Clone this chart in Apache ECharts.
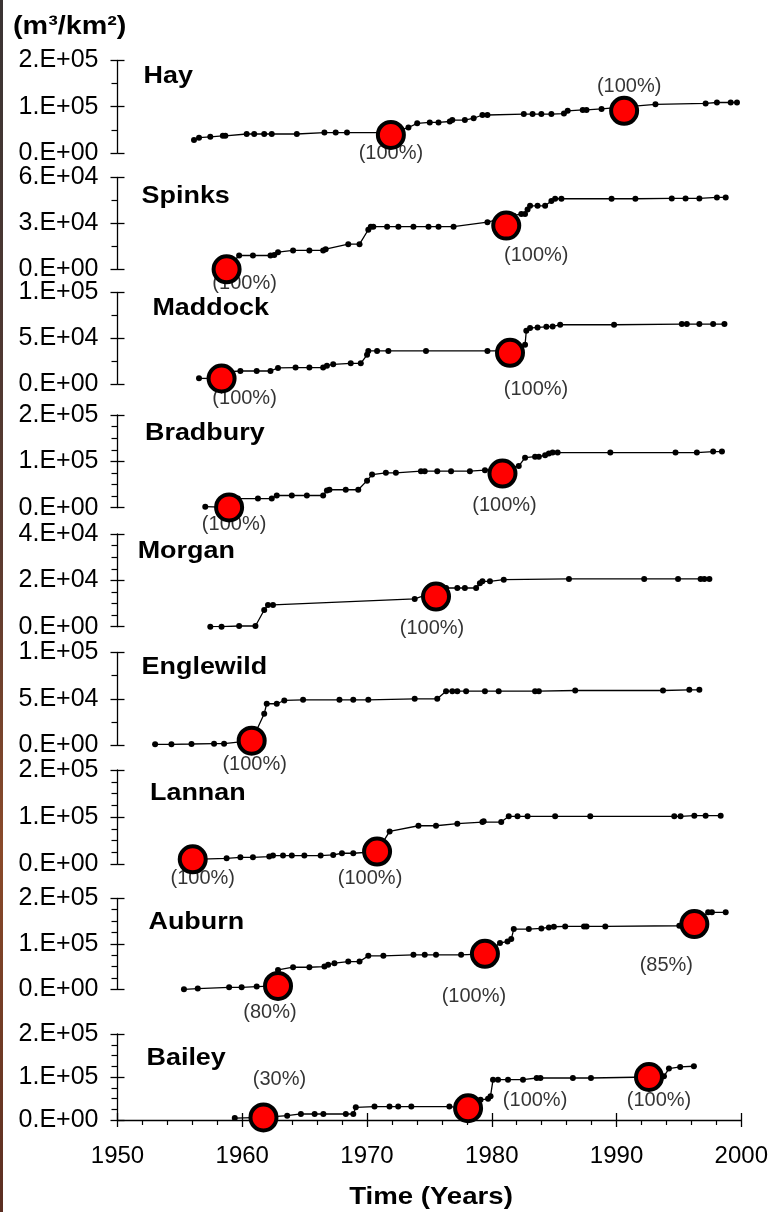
<!DOCTYPE html>
<html>
<head>
<meta charset="utf-8">
<script src="https://cdn.jsdelivr.net/npm/echarts@6/dist/echarts.min.js"></script>
<style>
html,body{margin:0;padding:0;background:#fff;}
#chart{width:771px;height:1212px;}
</style>
</head>
<body>
<div id="chart"></div>
<script>
// ---------------- DATA ----------------
const xMin = 1950, xMax = 2000;
const xTickInterval = 10;
const panelNames = ['Hay','Spinks','Maddock','Bradbury','Morgan','Englewild','Lannan','Auburn','Bailey'];
const yMaxes = [200000, 60000, 100000, 200000, 40000, 100000, 200000, 200000, 200000];
const yIntervals = [100000, 30000, 50000, 100000, 20000, 50000, 100000, 100000, 100000];
const yMinorSplits = [2, 2, 2, 4, 4, 2, 4, 4, 4];

const hayPoints = [[1956.1,28000],[1956.5,33000],[1957.4,35000],[1958.4,37000],[1958.6,37000],[1960.3,41000],[1960.9,41000],[1961.7,41000],[1962.3,41000],[1964.3,41000],[1966.5,44000],[1967.4,44000],[1968.3,44000],[1971.8,44000],[1973.2,55000],[1973.9,64000],[1974.9,66000],[1975.6,66000],[1976.5,68000],[1976.7,71000],[1977.7,71000],[1978.4,75000],[1979.1,82000],[1979.5,82000],[1982.4,84000],[1983.1,84000],[1983.8,84000],[1984.6,84000],[1985.6,85000],[1985.9,91000],[1987.1,93000],[1987.4,93000],[1988.6,95000],[1992.9,105000],[1996.9,107000],[1997.8,109000],[1998.9,109000],[1999.4,109000]];
const hayCircles = [[1971.8,39000],[1990.4,91000]];
const hayLabels = ['(100%)','(100%)'];

const spinksPoints = [[1958.7,0],[1959.7,9000],[1960.8,9000],[1962.2,9000],[1962.5,9400],[1962.8,11200],[1964.0,12300],[1965.3,12300],[1966.4,12300],[1966.6,13100],[1968.4,16400],[1969.3,16400],[1970.0,25800],[1970.2,27800],[1970.4,27800],[1971.5,27800],[1972.4,27800],[1973.6,27800],[1974.8,27800],[1975.6,27800],[1976.8,27800],[1979.5,30700],[1981.6,35000],[1982.2,36100],[1982.5,36100],[1982.7,39000],[1982.9,41400],[1983.5,41400],[1984.1,41400],[1984.6,44500],[1984.9,46000],[1985.4,46000],[1989.4,46000],[1991.3,46000],[1994.2,46200],[1995.3,46200],[1996.4,46200],[1997.8,46900],[1998.5,46900]];
const spinksCircles = [[1958.7,0],[1981.0,28500]];
const spinksLabels = ['(100%)','(100%)'];

const maddockPoints = [[1956.5,6200],[1958.3,6000],[1959.0,13500],[1959.8,14200],[1961.1,14200],[1962.2,14200],[1962.8,17500],[1964.2,17900],[1965.3,17900],[1966.4,17900],[1966.7,20000],[1967.2,21500],[1968.6,22600],[1969.4,22600],[1969.9,31800],[1970.0,36100],[1970.7,36100],[1971.6,36100],[1974.6,36100],[1979.5,36100],[1981.3,36100],[1982.5,42700],[1982.6,58000],[1982.9,61000],[1983.5,61700],[1984.2,62400],[1984.7,62800],[1985.3,64600],[1989.6,64600],[1995.0,65300],[1995.4,65300],[1996.4,65300],[1997.5,65300],[1998.4,65300]];
const maddockCircles = [[1958.3,6000],[1981.3,34000]];
const maddockLabels = ['(100%)','(100%)'];

const bradburyPoints = [[1957.0,2200],[1958.9,700],[1959.6,19700],[1961.2,19700],[1962.3,19700],[1962.7,26300],[1963.9,26300],[1965.1,26300],[1966.4,26300],[1966.7,37200],[1966.9,38700],[1968.2,38700],[1969.2,38700],[1969.9,58400],[1970.3,71500],[1971.4,75200],[1972.2,75200],[1974.2,78800],[1974.5,78800],[1975.5,78800],[1976.6,78800],[1978.1,78800],[1979.3,81000],[1982.0,89800],[1982.5,108000],[1983.3,110000],[1983.6,110000],[1984.1,113000],[1984.4,116800],[1984.7,119000],[1985.1,119000],[1989.3,119000],[1994.5,119000],[1996.2,119000],[1997.5,121000],[1998.2,121000]];
const bradburyCircles = [[1958.9,700],[1980.7,73700]];
const bradburyLabels = ['(100%)','(100%)'];

const morganPoints = [[1957.4,0],[1958.3,0],[1959.7,300],[1961.0,300],[1961.7,7200],[1962.0,9400],[1962.4,9400],[1973.7,12000],[1976.2,16700],[1977.1,16700],[1977.7,16700],[1978.6,16700],[1978.9,18800],[1979.1,19600],[1979.7,19600],[1980.8,20300],[1986.0,20600],[1992.0,20600],[1994.7,20600],[1996.5,20600],[1996.8,20600],[1997.2,20600]];
const morganCircles = [[1975.4,13000]];
const morganLabels = ['(100%)'];

const englewildPoints = [[1953.0,1100],[1954.3,1100],[1955.9,1400],[1957.7,1800],[1958.5,1800],[1960.7,5000],[1961.7,34000],[1961.9,44700],[1962.7,44700],[1963.3,48200],[1964.8,48900],[1967.7,48900],[1968.8,48900],[1970.0,48900],[1973.7,50000],[1975.5,50000],[1976.2,58200],[1976.7,58200],[1977.1,58200],[1977.8,58200],[1979.3,58200],[1980.4,58200],[1983.3,58200],[1983.6,58200],[1986.5,58900],[1993.5,58900],[1995.6,59600],[1996.4,59600]];
const englewildCircles = [[1960.7,5000]];
const englewildLabels = ['(100%)'];

const lannanPoints = [[1956.0,10000],[1958.7,12100],[1959.8,14300],[1960.8,14300],[1962.1,15700],[1962.4,17900],[1963.2,17900],[1963.9,17900],[1964.9,17900],[1966.2,17900],[1967.2,19300],[1967.9,22900],[1968.8,22900],[1970.7,26400],[1971.7,69300],[1974.0,81400],[1975.4,81400],[1977.1,85700],[1979.1,89300],[1979.2,90700],[1980.6,89300],[1981.2,101400],[1981.9,101400],[1982.7,101400],[1984.9,101400],[1987.7,101400],[1994.4,101400],[1994.9,101400],[1996.0,102800],[1996.9,102800],[1998.1,102800]];
const lannanCircles = [[1956.0,10000],[1970.7,26400]];
const lannanLabels = ['(100%)','(100%)'];

const auburnPoints = [[1955.3,0],[1956.4,1500],[1958.9,4400],[1959.9,4400],[1961.1,5900],[1962.8,7400],[1962.8,42600],[1964.0,48500],[1965.3,48500],[1966.5,50000],[1966.8,53700],[1967.3,57400],[1968.4,61000],[1969.3,61000],[1970.0,73500],[1971.2,73500],[1973.6,75700],[1974.5,75700],[1975.4,75700],[1977.4,75700],[1979.3,78000],[1980.5,101500],[1981.1,105100],[1981.4,110300],[1981.6,132400],[1982.8,132400],[1983.8,133800],[1984.4,136000],[1984.8,137500],[1985.7,138200],[1987.2,138200],[1987.4,138200],[1988.9,138200],[1994.8,139700],[1996.0,143400],[1997.1,169100],[1997.4,169100],[1998.5,169100]];
const auburnCircles = [[1962.8,7400],[1979.3,78000],[1996.0,143400]];
const auburnLabels = ['(80%)','(100%)','(85%)'];

const baileyPoints = [[1959.4,4500],[1961.7,6000],[1963.6,10000],[1964.7,14000],[1965.8,14000],[1966.5,14000],[1968.3,14000],[1968.9,14000],[1969.1,29500],[1970.6,31300],[1971.8,31300],[1972.5,31300],[1973.55,31300],[1976.6,31300],[1978.1,27300],[1979.1,46900],[1979.7,49200],[1979.9,55500],[1980.1,93800],[1980.5,93800],[1981.3,93800],[1982.5,93800],[1983.6,97700],[1983.9,97700],[1986.5,97700],[1987.95,97700],[1992.6,100000],[1993.8,101600],[1994.2,119500],[1995.1,123400],[1996.2,125000]];
const baileyCircles = [[1961.7,6000],[1978.1,27300],[1992.6,100000]];
const baileyLabels = ['(30%)','(100%)','(100%)'];

const allPoints = [hayPoints, spinksPoints, maddockPoints, bradburyPoints, morganPoints, englewildPoints, lannanPoints, auburnPoints, baileyPoints];
const allCircles = [hayCircles, spinksCircles, maddockCircles, bradburyCircles, morganCircles, englewildCircles, lannanCircles, auburnCircles, baileyCircles];
const allLabels = [hayLabels, spinksLabels, maddockLabels, bradburyLabels, morganLabels, englewildLabels, lannanLabels, auburnLabels, baileyLabels];

// ---------------- LAYOUT / STYLE ----------------
const gridLeft = 117.5, gridWidth = 627;
const gridTops = [60.3, 177.3, 292.3, 415, 534, 652.3, 770, 898.3, 1034];
const gridHeights = [92.7, 92, 91.7, 92.7, 92.7, 93, 94, 91, 86];
const titlePos = [[143.6,77],[141.6,197],[152.4,308.5],[145,433.5],[137.7,552],[141.6,668],[150,794],[148.5,922.5],[146.5,1058.5]];
const labelOffsets = [
  [[0,19],[5,-24]],
  [[18,14],[30,30]],
  [[23,20],[26,37]],
  [[5,17],[2,32]],
  [[-4,32]],
  [[3,24]],
  [[10,19],[-7,27]],
  [[-8,27],[-11,43],[-28,41]],
  [[16,-38],[67,-8],[10,23]]
];
const FONT = '"Liberation Sans", Arial, sans-serif';

function sci(v) {
  if (v === 0) return '0.E+00';
  const e = Math.floor(Math.log10(v) + 1e-9);
  const m = Math.round(v / Math.pow(10, e));
  return m + '.E+' + String(e).padStart(2, '0');
}

const grids = [], xAxes = [], yAxes = [], series = [], graphics = [];
const nP = panelNames.length;
for (let i = 0; i < nP; i++) {
  grids.push({ left: gridLeft, width: gridWidth, top: gridTops[i], height: gridHeights[i] });
  const last = i === nP - 1;
  xAxes.push({
    gridIndex: i, type: 'value', min: xMin, max: xMax, interval: xTickInterval,
    show: last,
    axisLine: { show: true, onZero: false, lineStyle: { color: '#000', width: 1.3 } },
    axisTick: { show: true, inside: false, length: 7, lineStyle: { color: '#000', width: 1.3 } },
    minorTick: { show: true, splitNumber: 5, length: 5, lineStyle: { color: '#000', width: 1.2 } },
    axisLabel: { show: true, fontSize: 24, fontFamily: FONT, color: '#000', margin: 24, formatter: v => String(v) },
    splitLine: { show: false }
  });
  yAxes.push({
    gridIndex: i, type: 'value', min: 0, max: yMaxes[i], interval: yIntervals[i], position: 'left',
    axisLine: { show: true, onZero: false, lineStyle: { color: '#000', width: 1.3 } },
    axisTick: { show: true, inside: false, length: 7, lineStyle: { color: '#000', width: 1.3 } },
    minorTick: { show: true, splitNumber: yMinorSplits[i], length: 6, lineStyle: { color: '#000', width: 1.2 } },
    axisLabel: { formatter: sci, fontSize: 25, fontFamily: FONT, color: '#000', margin: 19 },
    splitLine: { show: false }
  });
}
// inner halves of the cross ticks
for (let i = 0; i < nP; i++) {
  yAxes.push({
    gridIndex: i, type: 'value', min: 0, max: yMaxes[i], interval: yIntervals[i], position: 'left',
    axisLine: { show: false },
    axisTick: { show: true, inside: true, length: 7, lineStyle: { color: '#000', width: 1.3 } },
    axisLabel: { show: false }, splitLine: { show: false }
  });
}
xAxes.push({
  gridIndex: nP - 1, type: 'value', min: xMin, max: xMax, interval: xTickInterval, position: 'bottom',
  axisLine: { show: false, onZero: false },
  axisTick: { show: true, inside: true, length: 7, lineStyle: { color: '#000', width: 1.3 } },
  axisLabel: { show: false }, splitLine: { show: false }
});

for (let i = 0; i < nP; i++) {
  series.push({
    type: 'line', xAxisIndex: i, yAxisIndex: i, data: allPoints[i],
    symbol: 'circle', symbolSize: 6, showSymbol: true,
    itemStyle: { color: '#000' }, lineStyle: { color: '#000', width: 1.3 },
    z: 2, silent: true, animation: false
  });
  series.push({
    type: 'scatter', xAxisIndex: i, yAxisIndex: i,
    data: allCircles[i].map((c, j) => ({
      value: c,
      label: { show: true, position: 'inside', offset: labelOffsets[i][j], formatter: allLabels[i][j],
               color: '#000', fontSize: 20, fontFamily: FONT, textBorderWidth: 0 }
    })),
    symbolSize: 0, itemStyle: { color: '#000' },
    label: { show: true, fontSize: 20, fontFamily: FONT, color: '#000' },
    z: 3, silent: true, animation: false
  });
  series.push({
    type: 'scatter', xAxisIndex: i, yAxisIndex: i, data: allCircles[i],
    symbol: 'circle', symbolSize: 26,
    itemStyle: { color: '#ff0000', borderColor: '#000', borderWidth: 4, opacity: 1 },
    z: 5, silent: true, animation: false
  });
  graphics.push({
    type: 'text', x: titlePos[i][0], y: titlePos[i][1], scaleX: 1.17,
    style: { text: panelNames[i], font: 'bold 23px ' + FONT, fill: '#000', verticalAlign: 'middle' }
  });
}

graphics.push({
  type: 'text', x: 13, y: 27, scaleX: 1.15,
  style: { text: '(m³/km²)', font: 'bold 25px ' + FONT, fill: '#000', verticalAlign: 'middle' }
});
graphics.push({
  type: 'text', x: 431, y: 1197, scaleX: 1.15,
  style: { text: 'Time (Years)', font: 'bold 24px ' + FONT, fill: '#000', align: 'center', verticalAlign: 'middle' }
});
graphics.push({
  type: 'rect', shape: { x: 0, y: 0, width: 3, height: 1212 },
  style: { fill: { type: 'linear', x: 0, y: 0, x2: 0, y2: 1, colorStops: [
    { offset: 0, color: '#3a3434' }, { offset: 0.45, color: '#5a3a30' }, { offset: 0.7, color: '#8a4a2a' }, { offset: 1, color: '#5a2e22' }] } },
  z: 100
});

const chart = echarts.init(document.getElementById('chart'), null, { renderer: 'canvas' });
chart.setOption({
  animation: false,
  backgroundColor: '#fff',
  grid: grids, xAxis: xAxes, yAxis: yAxes, series: series, graphic: graphics
});
</script>
</body>
</html>
